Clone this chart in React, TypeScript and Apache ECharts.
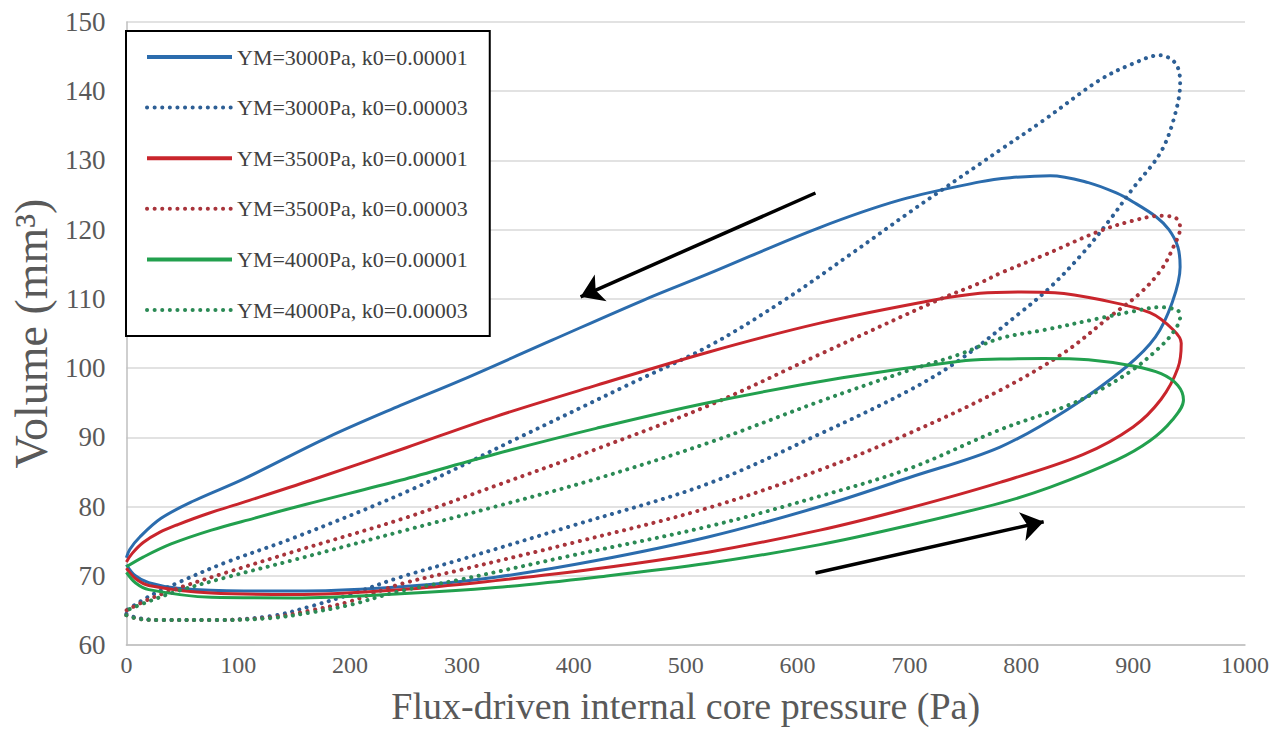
import React, { useEffect, useRef } from 'react';
import * as echarts from 'echarts';

const FONT = '"Liberation Serif", "Times New Roman", serif';

const seriesNames = [
  'YM=3000Pa, k0=0.00001',
  'YM=3000Pa, k0=0.00003',
  'YM=3500Pa, k0=0.00001',
  'YM=3500Pa, k0=0.00003',
  'YM=4000Pa, k0=0.00001',
  'YM=4000Pa, k0=0.00003',
];
const seriesColors = ['#2b6cad', '#2d5f95', '#c9252c', '#a8343b', '#22a04e', '#2b8a55'];
const seriesDotted = [false, true, false, true, false, true];

// Each loop: lower branch (pressure rising) then upper branch (pressure falling)
const blueSolid = [
  [0, 71.6], [8, 70.0], [20, 69.0], [46, 68.2], [105, 67.8], [160, 67.8], [245, 68.4], [330, 69.8],
  [420, 72.2], [520, 75.6], [620, 80.0], [700, 84.2], [781, 88.6], [841, 94.0], [894, 100.2],
  [920, 104.5], [935, 109.5], [942, 114.6], [940, 117.5], [932, 120.0], [921, 121.8], [900, 124.0],
  [885, 125.3], [860, 126.8], [826, 127.8], [790, 127.5], [763, 126.9], [692, 124.3], [618, 120.2],
  [520, 113.6], [462, 109.8], [380, 104.0], [300, 98.3], [245, 94.6], [180, 90.0], [105, 84.0],
  [60, 80.8], [31, 78.3], [12, 75.6], [3, 73.8], [0, 72.6],
];
const blueDotted = [
  [0, 64.5], [10, 63.9], [30, 63.6], [80, 63.6], [130, 64.2], [165, 65.6], [200, 67.3], [245, 69.8],
  [300, 72.4], [400, 77.3], [520, 83.3], [620, 90.5], [700, 96.8], [745, 101.2], [799, 108.0],
  [826, 111.7], [855, 116.6], [879, 121.4], [900, 126.0], [924, 131.0], [936, 135.8], [942, 141.2],
  [938, 144.0], [924, 145.2], [900, 144.0], [870, 141.6], [820, 135.8], [781, 131.5], [763, 129.5],
  [700, 122.5], [647, 116.4], [588, 109.8], [522, 103.3], [450, 97.7], [350, 89.9], [254, 82.4],
  [150, 75.5], [90, 72.0], [46, 69.0], [20, 67.0], [0, 65.0],
];
const redSolid = [
  [0, 71.1], [8, 69.6], [20, 68.6], [76, 67.5], [150, 67.3], [245, 68.0], [330, 69.3], [420, 71.0],
  [520, 73.4], [620, 76.6], [700, 79.8], [781, 83.5], [855, 87.5], [900, 91.5], [925, 95.5],
  [940, 100.0], [943, 103.6], [936, 105.5], [915, 108.0], [870, 109.9], [830, 110.9], [800, 111.0],
  [763, 110.8], [721, 109.8], [620, 106.5], [520, 102.3], [420, 97.5], [330, 93.0], [250, 88.5],
  [165, 83.8], [110, 80.9], [73, 79.0], [46, 77.4], [30, 76.3], [15, 74.8], [5, 73.2], [0, 72.0],
];
const redDotted = [
  [0, 64.3], [10, 63.8], [30, 63.6], [80, 63.6], [130, 64.0], [165, 65.0], [200, 66.3], [245, 68.8],
  [300, 70.9], [400, 74.8], [520, 79.8], [620, 85.3], [700, 90.6], [781, 96.8], [838, 102.2],
  [879, 107.4], [906, 110.8], [925, 114.2], [936, 117.5], [942, 120.3], [938, 121.7], [924, 122.0],
  [900, 121.3], [870, 119.8], [820, 116.3], [781, 113.7], [763, 112.3], [728, 110.0], [620, 102.0],
  [522, 94.7], [420, 88.3], [330, 83.0], [250, 78.4], [150, 73.5], [90, 70.5], [46, 68.2],
  [20, 66.6], [0, 65.0],
];
const greenSolid = [
  [0, 70.5], [8, 69.0], [20, 68.0], [76, 66.9], [150, 66.8], [245, 67.4], [330, 68.3], [420, 69.8],
  [520, 71.8], [620, 74.5], [700, 77.3], [781, 80.5], [826, 82.8], [885, 86.7], [915, 89.5],
  [935, 92.5], [945, 95.4], [940, 97.5], [925, 99.2], [900, 100.3], [860, 101.2], [820, 101.4],
  [781, 101.3], [745, 101.0], [640, 98.6], [520, 95.0], [420, 91.3], [330, 87.6], [245, 83.8],
  [160, 80.3], [114, 78.3], [76, 76.6], [40, 74.6], [15, 72.7], [0, 71.3],
];
const greenDotted = [
  [0, 64.3], [10, 63.8], [30, 63.6], [80, 63.6], [130, 63.9], [165, 64.7], [200, 65.8], [245, 67.8],
  [300, 69.5], [400, 73.0], [522, 77.2], [620, 81.5], [700, 85.5], [781, 91.1], [840, 94.5],
  [870, 96.8], [900, 99.8], [921, 102.6], [935, 105.0], [942, 107.4], [940, 108.3], [924, 108.8],
  [900, 108.2], [870, 107.2], [820, 105.5], [781, 104.3], [745, 102.0], [700, 99.7], [620, 95.2],
  [522, 89.3], [420, 84.0], [330, 80.0], [250, 76.6], [150, 72.3], [90, 69.8], [46, 67.8],
  [20, 66.3], [0, 65.0],
];
const seriesData = [blueSolid, blueDotted, redSolid, redDotted, greenSolid, greenDotted];

const arrowUnloading = [[616, 125.3], [406, 110.3]];
const arrowLoading = [[616, 70.4], [820, 77.8]];

const xAxisName = 'Flux-driven internal core pressure (Pa)';
const yAxisName = 'Volume (mm³)';

export default function App() {
  const ref = useRef<HTMLDivElement>(null);
  useEffect(() => {
    document.body.style.margin = '0';
    const chart = echarts.init(ref.current!, undefined, { renderer: 'svg' });
    const lineSeries = seriesNames.map((name, i) => ({
      name,
      type: 'line',
      data: seriesData[i],
      smooth: 0.35,
      symbol: 'none',
      color: seriesColors[i],
      lineStyle: seriesDotted[i]
        ? { color: seriesColors[i], width: 4, type: [0.1, 7.5], cap: 'round' }
        : { color: seriesColors[i], width: 3, type: 'solid' },
      z: 3,
    }));
    chart.setOption({
      animation: false,
      backgroundColor: '#ffffff',
      grid: { left: 125, right: 37, top: 22, bottom: 101, containLabel: false },
      xAxis: {
        type: 'value',
        min: 0,
        max: 1000,
        interval: 100,
        name: xAxisName,
        nameLocation: 'middle',
        nameGap: 42,
        nameTextStyle: { fontFamily: FONT, fontSize: 38, color: '#595959' },
        axisLine: { show: true, lineStyle: { color: '#bfbfbf', width: 1.5 } },
        axisTick: { show: false },
        splitLine: { show: false },
        axisLabel: {
          fontFamily: FONT, fontSize: 24, color: '#595959', margin: 8,
          formatter: (v: number) => String(v),
        },
      },
      yAxis: {
        type: 'value',
        min: 60,
        max: 150,
        interval: 10,
        name: yAxisName,
        nameLocation: 'middle',
        nameRotate: 90,
        nameGap: 66,
        nameTextStyle: { fontFamily: FONT, fontSize: 46, color: '#595959' },
        axisLine: { show: true, lineStyle: { color: '#bfbfbf', width: 1.5 } },
        axisTick: { show: false },
        splitLine: { show: true, lineStyle: { color: '#d9d9d9', width: 1.5 } },
        axisLabel: {
          fontFamily: FONT, fontSize: 27, color: '#595959', margin: 21,
          formatter: (v: number) => String(v),
        },
      },
      legend: {
        data: seriesNames,
        orient: 'vertical',
        left: 126,
        top: 31,
        backgroundColor: '#ffffff',
        borderColor: '#000000',
        borderWidth: 2,
        borderRadius: 0,
        padding: [15, 22, 15, 19],
        itemGap: 28.6,
        itemWidth: 85,
        itemHeight: 20,
        itemStyle: { opacity: 0 },
        lineStyle: { width: 4 },
        textStyle: { fontFamily: FONT, fontSize: 22, color: '#404040', lineHeight: 22 },
        z: 10,
      },
      series: [
        ...lineSeries,
        {
          type: 'lines',
          coordinateSystem: 'cartesian2d',
          silent: true,
          symbol: ['none', 'arrow'],
          symbolSize: [16, 22],
          lineStyle: { color: '#000000', width: 3.5, opacity: 1 },
          data: [{ coords: arrowUnloading }, { coords: arrowLoading }],
          z: 4,
        },
      ],
    });
    return () => chart.dispose();
  }, []);
  return <div ref={ref} style={{ position: 'absolute', left: 0, top: 0, width: 1282, height: 746 }} />;
}
